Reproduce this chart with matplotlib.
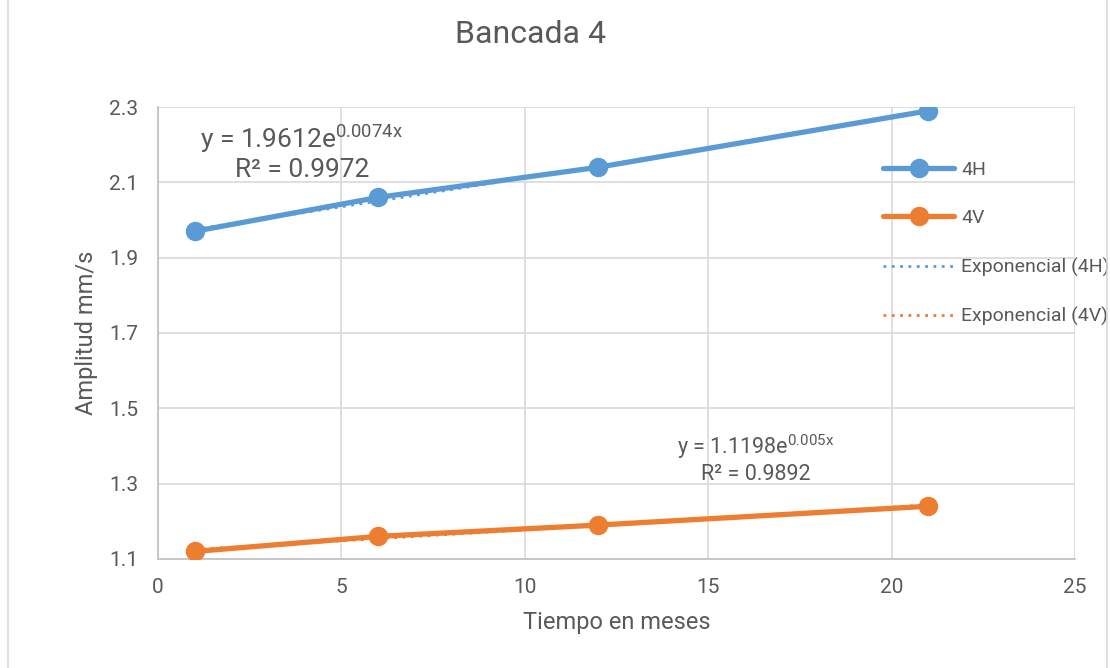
import numpy as np
import matplotlib.pyplot as plt
from matplotlib.patches import Rectangle

# Data
meses = [1, 6, 12, 21]
amp_4h = [1.97, 2.06, 2.14, 2.29]
amp_4v = [1.12, 1.16, 1.19, 1.24]

# Exponential trendline coefficients (from the labels)
fit_4h = (1.9612, 0.0074)
fit_4v = (1.1198, 0.005)

blue = '#5B9BD5'
orange = '#ED7D31'
gray_txt = '#595959'
grid_col = '#D9D9D9'

plt.rcParams['font.family'] = ['Roboto', 'DejaVu Sans']
plt.rcParams['mathtext.fontset'] = 'custom'
plt.rcParams['mathtext.rm'] = 'Roboto'

fig = plt.figure(figsize=(11.1, 6.68), dpi=100)
ax = fig.add_axes([0.1423, 0.1632, 0.8262, 0.6766])

# outer chart frame
fig.patches.append(Rectangle((0.007, -0.01), 0.99, 1.02, transform=fig.transFigure,
                             fill=False, edgecolor=grid_col, linewidth=1.2))

ax.plot(meses, amp_4h, color=blue, linewidth=3.8, marker='o', markersize=13,
        solid_capstyle='round', label='4H', zorder=3)
ax.plot(meses, amp_4v, color=orange, linewidth=3.8, marker='o', markersize=13,
        solid_capstyle='round', label='4V', zorder=3)

xs = np.linspace(meses[0], meses[-1], 100)
ax.plot(xs, fit_4h[0] * np.exp(fit_4h[1] * xs), color=blue, linewidth=2,
        linestyle=(0, (1, 2)), label='Exponencial (4H)', zorder=2)
ax.plot(xs, fit_4v[0] * np.exp(fit_4v[1] * xs), color=orange, linewidth=2,
        linestyle=(0, (1, 2)), label='Exponencial (4V)', zorder=2)

ax.set_xlim(0, 25)
ax.set_ylim(1.1, 2.3)
ax.set_xticks([0, 5, 10, 15, 20, 25])
ax.set_yticks([1.1, 1.3, 1.5, 1.7, 1.9, 2.1, 2.3])
ax.set_yticklabels(['1.1', '1.3', '1.5', '1.7', '1.9', '2.1', '2.3'])
ax.grid(True, color=grid_col, linewidth=1.2)
ax.set_axisbelow(True)
for s in ['top', 'right']:
    ax.spines[s].set_visible(False)
for s in ['left', 'bottom']:
    ax.spines[s].set_color('#BFBFBF')
    ax.spines[s].set_linewidth(1.2)
ax.tick_params(length=0, pad=14, labelsize=15, colors=gray_txt)

ax.set_xlabel('Tiempo en meses', fontsize=17, color=gray_txt, labelpad=10)
ax.set_ylabel('Amplitud mm/s', fontsize=17, color=gray_txt, labelpad=8)
fig.text(0.478, 0.948, 'Bancada 4', ha='center', va='center', fontsize=23,
         color=gray_txt)

ax.text(1.15, 2.216, r'y = 1.9612e$^{\mathrm{0.0074x}}$', fontsize=19, color=gray_txt,
        ha='left', va='center')
ax.text(3.93, 2.134, 'R² = 0.9972', fontsize=19, color=gray_txt,
        ha='center', va='center')
ax.text(16.3, 1.397, r'y = 1.1198e$^{\mathrm{0.005x}}$', fontsize=15.5, color=gray_txt,
        ha='center', va='center')
ax.text(16.3, 1.323, 'R² = 0.9892', fontsize=15.5, color=gray_txt,
        ha='center', va='center')

leg = ax.legend(loc='upper left', bbox_to_anchor=(0.772, 0.919), frameon=False,
                handlelength=3.65, labelspacing=1.55, handletextpad=0.35,
                labelcolor=gray_txt, prop={'size': 14})

fig.savefig('out.png', dpi=100)
